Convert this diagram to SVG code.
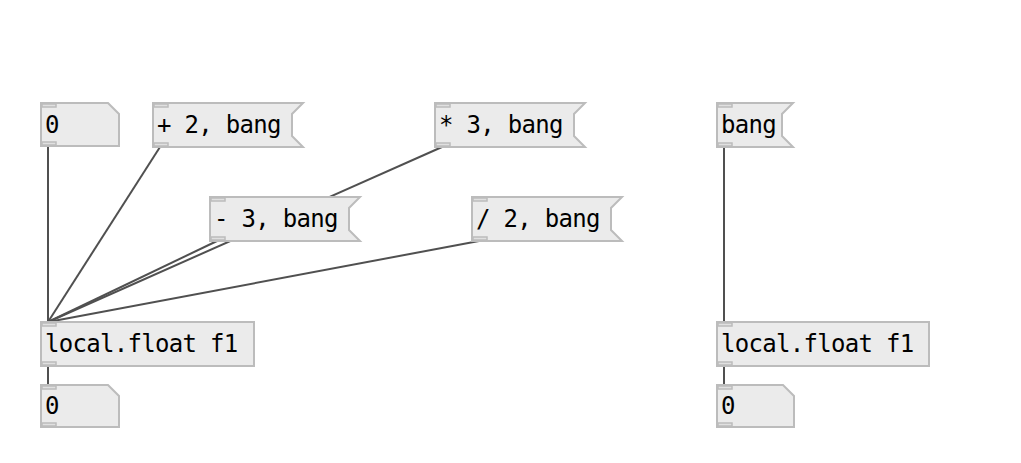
<svg xmlns="http://www.w3.org/2000/svg" width="1021" height="463" viewBox="0 0 1021 463">
  <style>
    .box { fill: #ebebeb; stroke: #bcbcbc; stroke-width: 2; }
    .port { fill: #e0e0e0; stroke: #bcbcbc; stroke-width: 1.5; }
    .lbl { font-family: "DejaVu Sans Mono", "Liberation Mono", monospace; font-size: 24px; letter-spacing: -0.7px; fill: #000; }
    .wire { stroke: #505050; stroke-width: 2; fill: none; }
  </style>
  <rect width="1021" height="463" fill="#ffffff"/>

  <!-- connections -->
  <g id="connectors">
    <line class="wire" x1="48" y1="146" x2="48" y2="322"/>
    <line class="wire" x1="160" y1="147" x2="48" y2="322"/>
    <line class="wire" x1="442" y1="147" x2="48" y2="322"/>
    <line class="wire" x1="217" y1="241" x2="48" y2="322"/>
    <line class="wire" x1="479" y1="241" x2="48" y2="322"/>
    <line class="wire" x1="48" y1="366" x2="48" y2="385"/>
    <line class="wire" x1="724" y1="147" x2="724" y2="322"/>
    <line class="wire" x1="724" y1="366" x2="724" y2="385"/>
  </g>

  <!-- left patch -->
  <g id="num-top">
    <path class="box" d="M41,103 H108 L119,114 V146 H41 Z"/>
    <rect class="port" x="42" y="104" width="14" height="3"/>
    <rect class="port" x="42" y="142" width="14" height="3"/>
    <text class="lbl" x="45" y="133">0</text>
  </g>
  <g id="msg-add">
    <path class="box" d="M153,103 H303 L292,114 V136 L303,147 H153 Z"/>
    <rect class="port" x="154" y="104" width="14" height="3"/>
    <rect class="port" x="154" y="143" width="14" height="3"/>
    <text class="lbl" x="157" y="133">+ 2, bang</text>
  </g>
  <g id="msg-mul">
    <path class="box" d="M435,103 H585 L574,114 V136 L585,147 H435 Z"/>
    <rect class="port" x="436" y="104" width="14" height="3"/>
    <rect class="port" x="436" y="143" width="14" height="3"/>
    <text class="lbl" x="439" y="133">* 3, bang</text>
  </g>
  <g id="msg-sub">
    <path class="box" d="M210,197 H360 L349,208 V230 L360,241 H210 Z"/>
    <rect class="port" x="211" y="198" width="14" height="3"/>
    <rect class="port" x="211" y="237" width="14" height="3"/>
    <text class="lbl" x="214" y="227">- 3, bang</text>
  </g>
  <g id="msg-div">
    <path class="box" d="M472,197 H622 L611,208 V230 L622,241 H472 Z"/>
    <rect class="port" x="473" y="198" width="14" height="3"/>
    <rect class="port" x="473" y="237" width="14" height="3"/>
    <text class="lbl" x="476" y="227">/ 2, bang</text>
  </g>
  <g id="obj-local-float-a">
    <rect class="box" x="41" y="322" width="213" height="44"/>
    <rect class="port" x="42" y="323" width="14" height="3"/>
    <rect class="port" x="42" y="362" width="14" height="3"/>
    <text class="lbl" x="45" y="352">local.float f1</text>
  </g>
  <g id="num-bottom-a">
    <path class="box" d="M41,385 H108 L119,396 V427 H41 Z"/>
    <rect class="port" x="42" y="386" width="14" height="3"/>
    <rect class="port" x="42" y="423" width="14" height="3"/>
    <text class="lbl" x="45" y="414">0</text>
  </g>

  <!-- right patch -->
  <g id="msg-bang">
    <path class="box" d="M717,103 H793 L782,114 V136 L793,147 H717 Z"/>
    <rect class="port" x="718" y="104" width="14" height="3"/>
    <rect class="port" x="718" y="143" width="14" height="3"/>
    <text class="lbl" x="721" y="133">bang</text>
  </g>
  <g id="obj-local-float-b">
    <rect class="box" x="717" y="322" width="212" height="44"/>
    <rect class="port" x="718" y="323" width="14" height="3"/>
    <rect class="port" x="718" y="362" width="14" height="3"/>
    <text class="lbl" x="721" y="352">local.float f1</text>
  </g>
  <g id="num-bottom-b">
    <path class="box" d="M717,385 H783 L794,396 V427 H717 Z"/>
    <rect class="port" x="718" y="386" width="14" height="3"/>
    <rect class="port" x="718" y="423" width="14" height="3"/>
    <text class="lbl" x="721" y="414">0</text>
  </g>
</svg>
